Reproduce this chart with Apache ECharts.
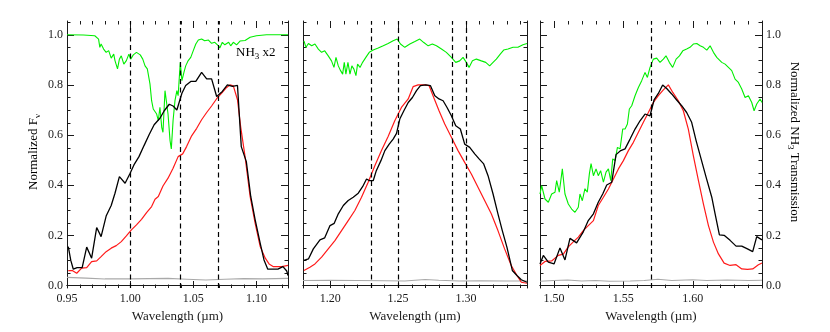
<!DOCTYPE html>
<html>
<head>
<meta charset="utf-8">
<script src="https://cdn.jsdelivr.net/npm/echarts@6/dist/echarts.min.js"></script>
<style>
  html, body { margin: 0; padding: 0; background: #fff; }
  #chart { width: 830px; height: 332px; }
</style>
</head>
<body>
<div id="chart"></div>
<script>
// tick labels
const p1Ticks = [0.95, 1.00, 1.05, 1.10]
const p2Ticks = [1.20, 1.25, 1.30]
const p3Ticks = [1.50, 1.55, 1.60]
const yTicks = [0.0, 0.2, 0.4, 0.6, 0.8, 1.0]

// dashed line positions (um)
const p1Dash = [0.997, 1.038, 1.070]
const p2Dash = [1.233, 1.250, 1.292, 1.302]
const p3Dash = [1.5705]

// panel 1 : 0.95 - 1.125 um
const p1Black = [[0.951,0.155],[0.953,0.10],[0.955,0.065],[0.958,0.071],[0.962,0.071],[0.9656,0.153],[0.9695,0.109],[0.9735,0.231],[0.977,0.195],[0.981,0.277],[0.985,0.319],[0.988,0.368],[0.9915,0.434],[0.996,0.408],[1.000,0.448],[1.003,0.481],[1.007,0.514],[1.011,0.558],[1.015,0.601],[1.019,0.641],[1.0236,0.667],[1.027,0.697],[1.031,0.723],[1.034,0.716],[1.037,0.70],[1.041,0.767],[1.044,0.798],[1.048,0.814],[1.052,0.814],[1.0566,0.850],[1.0606,0.824],[1.0645,0.824],[1.0685,0.754],[1.073,0.774],[1.077,0.80],[1.081,0.794],[1.085,0.798],[1.088,0.554],[1.092,0.494],[1.0955,0.355],[1.099,0.262],[1.103,0.168],[1.106,0.102],[1.109,0.065],[1.1135,0.065],[1.117,0.065],[1.121,0.075],[1.124,0.058],[1.125,0.040]]
const p1Red = [[0.951,0.059],[0.9545,0.059],[0.9577,0.049],[0.9616,0.069],[0.9656,0.071],[0.9695,0.095],[0.9735,0.098],[0.977,0.115],[0.981,0.135],[0.985,0.149],[0.989,0.159],[0.993,0.175],[0.997,0.198],[1.001,0.222],[1.005,0.242],[1.009,0.264],[1.013,0.291],[1.017,0.315],[1.0197,0.344],[1.0223,0.355],[1.026,0.397],[1.030,0.428],[1.034,0.468],[1.038,0.514],[1.0416,0.525],[1.0447,0.554],[1.0487,0.597],[1.0527,0.627],[1.0566,0.661],[1.0606,0.690],[1.0645,0.716],[1.0685,0.745],[1.0725,0.767],[1.0764,0.790],[1.079,0.80],[1.0817,0.796],[1.085,0.741],[1.0875,0.634],[1.091,0.514],[1.095,0.355],[1.099,0.248],[1.103,0.155],[1.107,0.109],[1.110,0.086],[1.1135,0.075],[1.12,0.075],[1.125,0.080]]
const p1Green = [[0.95,1.0],[0.963,0.999],[0.972,0.996],[0.975,0.983],[0.976,0.95],[0.977,0.963],[0.979,0.943],[0.981,0.93],[0.983,0.937],[0.985,0.907],[0.987,0.923],[0.988,0.897],[0.990,0.864],[0.9915,0.903],[0.993,0.916],[0.995,0.883],[0.997,0.897],[0.999,0.923],[1.0004,0.903],[1.0025,0.92],[1.005,0.93],[1.008,0.92],[1.010,0.903],[1.0118,0.876],[1.0136,0.864],[1.0157,0.804],[1.017,0.737],[1.0183,0.704],[1.0197,0.711],[1.021,0.684],[1.0223,0.658],[1.0236,0.711],[1.025,0.631],[1.026,0.611],[1.0276,0.777],[1.029,0.724],[1.030,0.684],[1.0316,0.578],[1.0326,0.545],[1.034,0.658],[1.0355,0.737],[1.037,0.777],[1.038,0.757],[1.0397,0.89],[1.041,0.817],[1.0426,0.85],[1.044,0.876],[1.046,0.897],[1.048,0.91],[1.050,0.937],[1.052,0.963],[1.054,0.979],[1.0566,0.983],[1.059,0.976],[1.062,0.979],[1.0645,0.966],[1.067,0.97],[1.070,0.956],[1.071,0.947],[1.073,0.97],[1.075,0.96],[1.078,0.97],[1.0796,0.956],[1.0817,0.97],[1.0843,0.96],[1.087,0.975],[1.091,0.977],[1.095,0.99],[1.100,0.996],[1.108,1.0],[1.125,1.0]]
const p1Gray = [[0.95,0.032],[0.965,0.029],[0.98,0.026],[1.00,0.026],[1.015,0.027],[1.03,0.028],[1.045,0.025],[1.06,0.022],[1.075,0.025],[1.09,0.027],[1.105,0.026],[1.125,0.028]]

// panel 2 : 1.18 - 1.345 um
const p2Black = [[1.1807,0.10],[1.184,0.106],[1.1876,0.146],[1.1925,0.182],[1.196,0.19],[1.1999,0.239],[1.203,0.248],[1.206,0.286],[1.2097,0.319],[1.2133,0.339],[1.217,0.352],[1.2207,0.368],[1.2239,0.394],[1.2268,0.425],[1.229,0.418],[1.2317,0.418],[1.234,0.458],[1.2374,0.498],[1.2403,0.538],[1.2435,0.564],[1.2464,0.584],[1.2489,0.607],[1.2513,0.664],[1.2543,0.697],[1.2575,0.73],[1.2606,0.75],[1.2636,0.777],[1.2665,0.797],[1.2704,0.80],[1.2739,0.797],[1.2771,0.757],[1.2802,0.744],[1.2832,0.737],[1.2861,0.71],[1.2893,0.677],[1.2925,0.637],[1.2959,0.624],[1.2991,0.564],[1.3028,0.551],[1.3065,0.525],[1.3097,0.505],[1.3131,0.485],[1.3163,0.438],[1.32,0.365],[1.3236,0.286],[1.3268,0.219],[1.3302,0.153],[1.3342,0.06],[1.3376,0.04],[1.3408,0.023],[1.345,0.013]]
const p2Red = [[1.1807,0.06],[1.1851,0.073],[1.1888,0.086],[1.1937,0.113],[1.1986,0.146],[1.2035,0.179],[1.2084,0.219],[1.2133,0.259],[1.2182,0.299],[1.2231,0.352],[1.228,0.412],[1.2329,0.478],[1.2378,0.538],[1.2427,0.594],[1.2476,0.657],[1.2525,0.71],[1.2575,0.744],[1.2611,0.793],[1.2648,0.80],[1.2697,0.80],[1.2729,0.797],[1.2763,0.75],[1.2802,0.697],[1.2844,0.644],[1.2893,0.591],[1.2942,0.538],[1.2991,0.491],[1.304,0.445],[1.3089,0.392],[1.3138,0.339],[1.3187,0.286],[1.3236,0.219],[1.3285,0.146],[1.3334,0.08],[1.3376,0.04],[1.3408,0.013],[1.345,0.009]]
const p2Green = [[1.1807,0.976],[1.1822,0.95],[1.184,0.965],[1.1864,0.956],[1.1888,0.963],[1.1913,0.943],[1.1937,0.93],[1.196,0.936],[1.1986,0.916],[1.201,0.896],[1.2028,0.87],[1.2043,0.91],[1.206,0.876],[1.2077,0.857],[1.2092,0.843],[1.2104,0.89],[1.2116,0.843],[1.2131,0.89],[1.2146,0.843],[1.216,0.876],[1.2175,0.863],[1.219,0.837],[1.2202,0.883],[1.222,0.87],[1.2239,0.89],[1.2263,0.91],[1.2288,0.93],[1.2317,0.939],[1.2354,0.947],[1.2391,0.956],[1.2427,0.965],[1.2464,0.976],[1.2494,0.983],[1.2518,0.963],[1.255,0.95],[1.2587,0.963],[1.2624,0.973],[1.266,0.983],[1.269,0.969],[1.2722,0.956],[1.2753,0.963],[1.2783,0.956],[1.282,0.943],[1.2856,0.93],[1.2893,0.91],[1.2925,0.89],[1.2954,0.896],[1.2979,0.91],[1.3003,0.89],[1.3023,0.87],[1.3048,0.896],[1.3077,0.903],[1.3114,0.896],[1.3146,0.89],[1.3175,0.876],[1.32,0.89],[1.3224,0.903],[1.3253,0.923],[1.3278,0.939],[1.331,0.943],[1.3347,0.95],[1.3383,0.95],[1.342,0.96],[1.345,0.965]]
const p2Gray = [[1.18,0.020],[1.20,0.021],[1.22,0.020],[1.24,0.019],[1.255,0.018],[1.27,0.024],[1.28,0.021],[1.295,0.018],[1.31,0.019],[1.33,0.018],[1.345,0.018]]

// panel 3 : 1.49 - 1.65 um
const p3Black = [[1.49,0.086],[1.4924,0.12],[1.496,0.093],[1.5001,0.086],[1.5044,0.15],[1.508,0.102],[1.5116,0.188],[1.5164,0.17],[1.5212,0.214],[1.5248,0.259],[1.5285,0.286],[1.532,0.332],[1.5352,0.365],[1.5381,0.401],[1.5417,0.412],[1.5448,0.522],[1.5482,0.538],[1.5513,0.545],[1.5549,0.584],[1.5585,0.624],[1.5621,0.657],[1.5657,0.684],[1.5693,0.677],[1.5722,0.74],[1.5753,0.766],[1.5784,0.80],[1.5813,0.786],[1.5849,0.764],[1.5885,0.74],[1.5921,0.717],[1.5957,0.69],[1.5993,0.651],[1.6025,0.578],[1.6058,0.511],[1.6097,0.432],[1.6138,0.352],[1.6162,0.286],[1.6193,0.202],[1.6227,0.2],[1.627,0.18],[1.6313,0.157],[1.6354,0.157],[1.6395,0.146],[1.6433,0.135],[1.6462,0.195],[1.65,0.182]]
const p3Red = [[1.49,0.08],[1.4936,0.096],[1.4984,0.098],[1.5032,0.12],[1.5068,0.125],[1.5104,0.154],[1.514,0.174],[1.5176,0.193],[1.5212,0.219],[1.5248,0.239],[1.5285,0.259],[1.532,0.319],[1.5357,0.352],[1.5393,0.385],[1.5429,0.425],[1.5465,0.465],[1.5501,0.498],[1.5537,0.538],[1.5573,0.571],[1.5609,0.611],[1.5645,0.651],[1.5681,0.69],[1.5717,0.73],[1.5753,0.757],[1.5789,0.78],[1.5825,0.80],[1.5857,0.77],[1.5897,0.737],[1.5933,0.697],[1.5969,0.624],[1.6005,0.518],[1.6042,0.418],[1.6078,0.325],[1.6114,0.239],[1.615,0.173],[1.6186,0.126],[1.6227,0.089],[1.627,0.08],[1.6313,0.083],[1.6354,0.066],[1.6395,0.064],[1.6433,0.066],[1.6474,0.083],[1.65,0.09]]
const p3Green = [[1.49,0.365],[1.4912,0.398],[1.4936,0.345],[1.496,0.332],[1.4984,0.365],[1.5008,0.372],[1.502,0.418],[1.5039,0.372],[1.5061,0.465],[1.508,0.365],[1.5104,0.325],[1.5128,0.305],[1.5152,0.292],[1.5176,0.312],[1.5188,0.365],[1.5205,0.338],[1.5224,0.386],[1.5241,0.372],[1.5256,0.446],[1.5268,0.486],[1.5285,0.438],[1.5304,0.465],[1.532,0.438],[1.5337,0.458],[1.5357,0.412],[1.5376,0.452],[1.5393,0.465],[1.541,0.418],[1.5424,0.505],[1.5441,0.498],[1.5458,0.551],[1.5477,0.545],[1.5496,0.624],[1.5513,0.624],[1.553,0.644],[1.5544,0.704],[1.5561,0.717],[1.5585,0.757],[1.5609,0.79],[1.5633,0.817],[1.5657,0.85],[1.5674,0.83],[1.5693,0.87],[1.5717,0.903],[1.5741,0.907],[1.5765,0.89],[1.5789,0.903],[1.5808,0.916],[1.5832,0.89],[1.5856,0.87],[1.5881,0.903],[1.5905,0.916],[1.5929,0.936],[1.5957,0.943],[1.5981,0.95],[1.6005,0.963],[1.603,0.965],[1.6054,0.956],[1.6078,0.95],[1.6102,0.939],[1.6126,0.956],[1.615,0.93],[1.6174,0.91],[1.621,0.89],[1.6234,0.883],[1.6258,0.87],[1.6282,0.857],[1.6306,0.823],[1.633,0.81],[1.6354,0.784],[1.6378,0.75],[1.6402,0.757],[1.6426,0.73],[1.6443,0.697],[1.6462,0.724],[1.6486,0.744],[1.65,0.73]]
const p3Gray = [[1.49,0.017],[1.50,0.020],[1.51,0.022],[1.52,0.018],[1.53,0.020],[1.54,0.017],[1.555,0.018],[1.565,0.020],[1.575,0.025],[1.585,0.020],[1.60,0.023],[1.61,0.020],[1.625,0.022],[1.64,0.020],[1.65,0.021]]

const panels = [
  {left: 67, width: 221, range: [0.95, 1.125], ticks: p1Ticks, black: p1Black, red: p1Red, green: p1Green, gray: p1Gray, dash: p1Dash},
  {left: 303, width: 224, range: [1.18, 1.345], ticks: p2Ticks, black: p2Black, red: p2Red, green: p2Green, gray: p2Gray, dash: p2Dash},
  {left: 540, width: 222, range: [1.49, 1.65], ticks: p3Ticks, black: p3Black, red: p3Red, green: p3Green, gray: p3Gray, dash: p3Dash}
]

const FONT = 'Liberation Serif'
const INK = '#1a1a1a'
const Y_MIN = -0.01
const Y_MAX = 1.055

// minor tick positions between a and b
function steps (a, b, d) {
  const out = []
  for (let v = Math.ceil(a / d - 1e-6) * d; v <= b + 1e-9; v += d) out.push(Math.round(v * 1000) / 1000)
  return out
}
const yMinor = steps(0, 1.05, 0.05)

const chart = echarts.init(document.getElementById('chart'))
const grid = []
const xAxis = []
const yAxis = []
const series = []

panels.forEach((p, g) => {
  grid.push({left: p.left, width: p.width, top: 21, height: 267})

  const frame = {show: true, lineStyle: {color: INK, width: 1}}
  const xBase = {type: 'value', gridIndex: g, min: p.range[0], max: p.range[1], splitLine: {show: false},
    axisTick: {show: false}, axisLine: frame, axisLabel: {show: false}}
  const yBase = {type: 'value', gridIndex: g, min: Y_MIN, max: Y_MAX, splitLine: {show: false},
    axisTick: {show: false}, axisLine: frame, axisLabel: {show: false}}

  xAxis.push(Object.assign({}, xBase, {
    position: 'bottom',
    axisLabel: {show: true, customValues: p.ticks, formatter: (v) => v.toFixed(2), margin: 5,
      color: INK, fontFamily: FONT, fontSize: 12},
    name: 'Wavelength (µm)', nameLocation: 'middle', nameGap: 18,
    nameTextStyle: {color: INK, fontFamily: FONT, fontSize: 13}
  }))
  xAxis.push(Object.assign({}, xBase, {position: 'top'}))

  const yLabel = {show: true, customValues: yTicks, formatter: (v) => v.toFixed(1), margin: 4,
    color: INK, fontFamily: FONT, fontSize: 12}
  yAxis.push(Object.assign({}, yBase, {position: 'left', axisLabel: g === 0 ? yLabel : {show: false}}))
  yAxis.push(Object.assign({}, yBase, {position: 'right', axisLabel: g === 2 ? yLabel : {show: false}}))

  const ax = {xAxisIndex: 2 * g, yAxisIndex: 2 * g}

  // inward ticks on all four sides: [x, y, kind (0 = x tick, 1 = y tick), length]
  const tickData = []
  steps(p.range[0], p.range[1], 0.01).forEach((v) => tickData.push([v, 0, 0, 3.5]))
  p.ticks.forEach((v) => tickData.push([v, 0, 0, 7]))
  yMinor.forEach((v) => tickData.push([p.range[0], v, 1, 3.5]))
  yTicks.forEach((v) => tickData.push([p.range[0], v, 1, 7]))
  series.push(Object.assign({
    type: 'custom', silent: true, clip: false, data: tickData,
    renderItem: (params, api) => {
      const bl = api.coord([p.range[0], Y_MIN])
      const tr = api.coord([p.range[1], Y_MAX])
      const len = api.value(3)
      const style = {stroke: INK, lineWidth: 1}
      if (api.value(2) === 0) {
        const x = Math.round(api.coord([api.value(0), 0])[0]) + 0.5
        return {type: 'group', children: [
          {type: 'line', shape: {x1: x, y1: bl[1], x2: x, y2: bl[1] - len}, style: style},
          {type: 'line', shape: {x1: x, y1: tr[1], x2: x, y2: tr[1] + len}, style: style}
        ]}
      }
      const y = Math.round(api.coord([p.range[0], api.value(1)])[1]) + 0.5
      return {type: 'group', children: [
        {type: 'line', shape: {x1: bl[0], y1: y, x2: bl[0] + len, y2: y}, style: style},
        {type: 'line', shape: {x1: tr[0], y1: y, x2: tr[0] - len, y2: y}, style: style}
      ]}
    }
  }, ax))

  const lineSeries = (name, data, color, width) => Object.assign({
    name: name, type: 'line', data: data, showSymbol: false, symbol: 'none', silent: true,
    lineStyle: {color: color, width: width}
  }, ax)

  series.push(lineSeries('noise', p.gray, '#a9a9a9', 1.2))
  series.push(lineSeries('NH3', p.green, '#00ee00', 1.1))
  series.push(lineSeries('model', p.red, '#ff1a1a', 1.2))
  const obs = lineSeries('observed', p.black, '#000000', 1.3)
  obs.markLine = {
    silent: true, symbol: ['none', 'none'], animation: false, label: {show: false},
    lineStyle: {color: '#000', width: 1.2, type: [5, 3.5]},
    emphasis: {disabled: true},
    data: p.dash.map((v) => ({xAxis: v}))
  }
  series.push(obs)
})

const rich = {
  a: {fontFamily: FONT, fontSize: 13, color: INK, lineHeight: 16},
  s: {fontFamily: FONT, fontSize: 9, color: INK, lineHeight: 9, padding: [7, 0, 0, 0]}
}

chart.setOption({
  animation: false,
  backgroundColor: '#fff',
  grid: grid,
  xAxis: xAxis,
  yAxis: yAxis,
  series: series,
  graphic: [
    {type: 'text', x: 34, y: 152, rotation: Math.PI / 2, silent: true,
      style: {text: '{a|Normalized F}{s|ν}', rich: rich, align: 'center', verticalAlign: 'middle'}},
    {type: 'text', x: 794, y: 142, rotation: -Math.PI / 2, silent: true,
      style: {text: '{a|Normalized NH}{s|3}{a| Transmission}', rich: rich, align: 'center', verticalAlign: 'middle'}},
    {type: 'text', x: 236, y: 53, silent: true,
      style: {text: '{g|NH}{gs|3}{g| x2}', align: 'left', verticalAlign: 'middle',
        rich: {
          g: {fontFamily: FONT, fontSize: 13, color: '#22dd22', lineHeight: 16},
          gs: {fontFamily: FONT, fontSize: 9, color: '#22dd22', lineHeight: 9, padding: [7, 0, 0, 0]}
        }}}
  ]
})
</script>
</body>
</html>
